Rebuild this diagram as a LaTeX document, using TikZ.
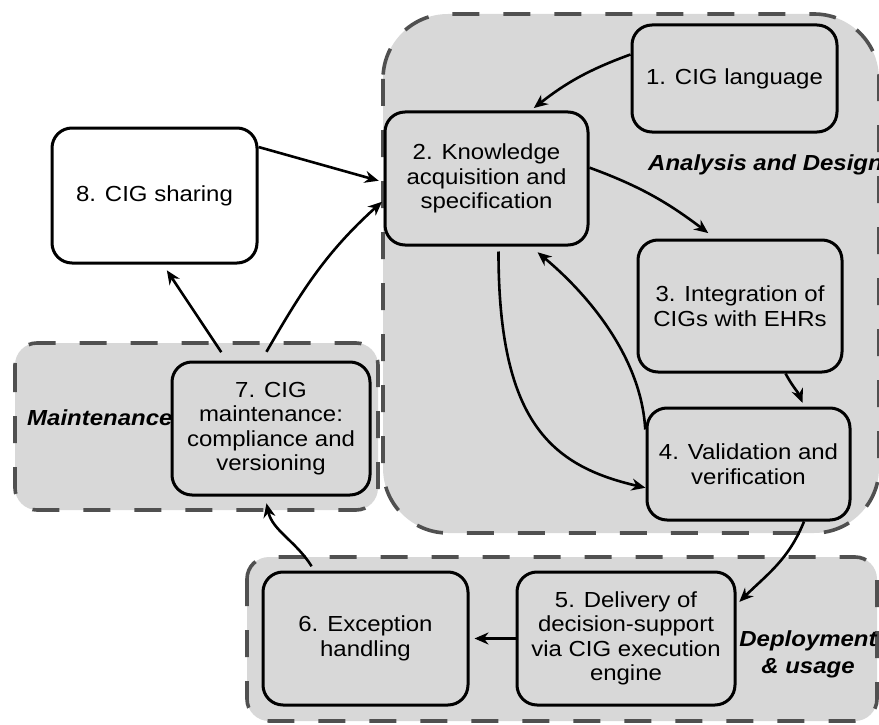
\documentclass[tikz,border=0pt]{standalone}
\usepackage{fontspec}
\setmainfont{Liberation Sans}[FakeStretch=1.1]
\usetikzlibrary{arrows.meta}
\definecolor{panelgray}{RGB}{216,216,216}
\definecolor{dashgray}{RGB}{80,80,80}
\begin{document}
\begin{tikzpicture}[x=1pt,y=-1pt,
  stagebox/.style={draw=black, line width=3pt, rounded corners=20pt, fill=panelgray,
    align=center, inner sep=0pt, font=\fontsize{21.8}{24.5}\selectfont},
  phase/.style={draw=dashgray, fill=panelgray, line width=3.6pt, dash pattern=on 27pt off 24pt},
  flow/.style={-{Stealth[length=14pt,width=12pt]}, line width=2.6pt},
  phaselabel/.style={font=\fontsize{21.8}{27}\selectfont\bfseries\itshape, align=center, inner sep=0pt}]

\useasboundingbox (0,0) rectangle (879,725);

% phase panels
\draw[phase, rounded corners=65pt] (383,14) rectangle (879,533);
\draw[phase, rounded corners=22pt] (15,343) rectangle (378,510);
\draw[phase, rounded corners=22pt] (247,557) rectangle (877,721);

% phase titles
\node[phaselabel, anchor=west] (tAD) at (648,165) {Analysis and Design};
\node[phaselabel, anchor=west] (tM) at (27,418) {Maintenance};
\node[phaselabel] (tDU) at (808,654) {Deployment\\\& usage};

% stages
\node[stagebox, minimum width=205pt, minimum height=107pt] (b1) at (734.5,78.5) {1. CIG language};
\node[stagebox, minimum width=203pt, minimum height=133pt] (b2) at (486.5,178.5) {2. Knowledge\\acquisition and\\specification};
\node[stagebox, minimum width=204pt, minimum height=132pt] (b3) at (740,306) {3. Integration of\\CIGs with EHRs};
\node[stagebox, minimum width=203pt, minimum height=112pt] (b4) at (748.5,464) {4. Validation and\\verification};
\node[stagebox, minimum width=218pt, minimum height=133pt] (b5) at (626,638.5) {5. Delivery of\\decision-support\\via CIG execution\\engine};
\node[stagebox, minimum width=205pt, minimum height=133pt] (b6) at (365.5,638.5) {6. Exception\\handling};
\node[stagebox, minimum width=198pt, minimum height=133pt] (b7) at (271,428.5) {7. CIG\\maintenance:\\compliance and\\versioning};
\node[stagebox, fill=white, minimum width=205pt, minimum height=135pt] (b8) at (154.5,195.5) {8. CIG sharing};

% flows
\draw[flow, shorten >=4pt] (b1.167) to[out=200, in=38] (b2.57);
\draw[flow, shorten >=9pt] (b2.6) to[out=-20, in=143] (b3.110);
\draw[flow, shorten >=4pt] (b3.-56) to[out=-62, in=112] (b4.46);
\draw[flow, shorten <=5pt] (b2.-80) .. controls +(0,175) and +(-95,-22) .. (b4.193);
\draw[flow, shorten >=9pt, shorten <=5pt] (b4.164) .. controls +(-4,-75) and +(60,50) .. (b2.-57);
\draw[flow, shorten >=4pt] (b4.-46) to[out=-112, in=45] (b5.17);
\draw[flow, shorten >=5pt] (b5.west) -- (b6.east);
\draw[flow, shorten >=7pt, shorten <=5pt] (b6.127) to[out=122, in=-78] (b7.-95);
\draw[flow, shorten >=7pt, shorten <=10pt] (b7.123) -- (b8.-83);
\draw[flow, shorten >=2pt, shorten <=10pt] (b7.98) to[out=60, in=222] (b2.192);
\draw[flow, shorten >=5pt] (b8.25) -- (b2.182);
\end{tikzpicture}
\end{document}
